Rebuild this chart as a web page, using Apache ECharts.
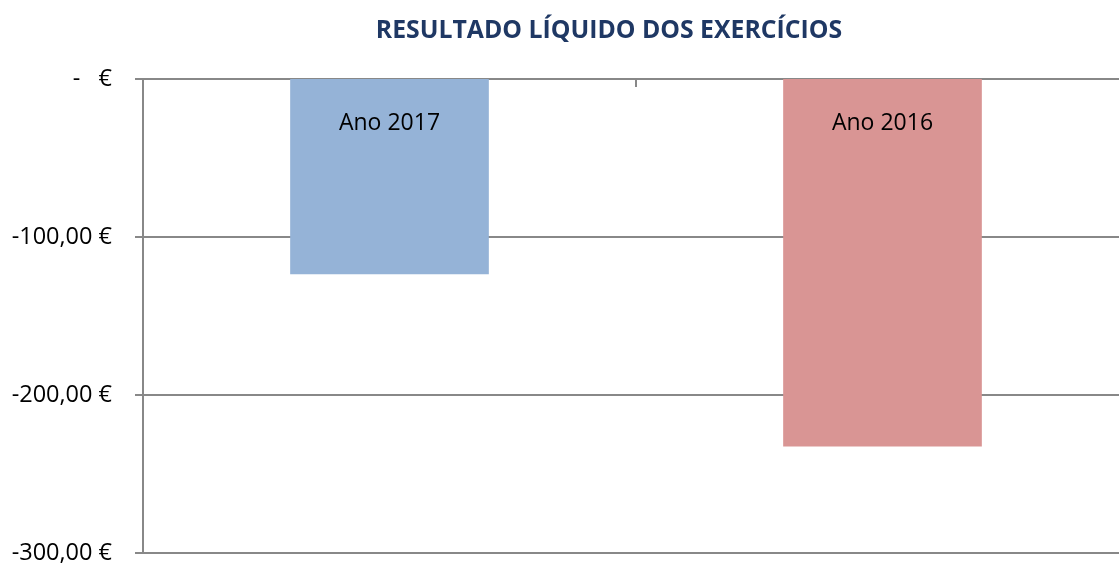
<!DOCTYPE html>
<html>
<head>
<meta charset="utf-8">
<script src="https://cdn.jsdelivr.net/npm/echarts@6/dist/echarts.min.js"></script>
<style>
  html, body { margin: 0; padding: 0; background: #fff; overflow: hidden; }
  /* a área do gráfico ultrapassa a janela à direita */
  #main { width: 1129px; height: 565px; }
</style>
</head>
<body>
<div id="main"></div>
<script>
// dados do gráfico
const categories = ["Ano 2017", "Ano 2016"];
const values = [-123.6, -232.6];
const barColors = ["#95b3d7", "#d99594"];
const yTicks = [0, -100, -200, -300];

function fmtEuro(v) {
  if (v === 0) return "-   €";
  return v.toFixed(2).replace(".", ",") + " €";
}

const myChart = echarts.init(document.getElementById("main"));
myChart.setOption({
  animation: false,
  textStyle: { fontFamily: "Open Sans" },
  title: {
    text: "RESULTADO LÍQUIDO DOS EXERCÍCIOS",
    left: 604,
    textAlign: "center",
    top: 13,
    textStyle: { color: "#1f3864", fontSize: 24.8, fontWeight: "bold", fontFamily: "Open Sans" }
  },
  grid: { left: 143, right: 0, top: 79, bottom: 11, containLabel: false },
  xAxis: {
    type: "category",
    data: categories,
    position: "top",
    axisLine: { lineStyle: { color: "#888", width: 2 } },
    axisTick: { show: true, inside: true, length: 8, lineStyle: { color: "#888", width: 2 } },
    axisLabel: { show: false },
    splitLine: { show: false }
  },
  yAxis: {
    type: "value",
    min: yTicks[yTicks.length - 1],
    max: yTicks[0],
    interval: 100,
    axisLine: { show: true, lineStyle: { color: "#888", width: 2 } },
    axisTick: { show: true, length: 8, lineStyle: { color: "#888", width: 2 } },
    axisLabel: { color: "#000", fontSize: 23.5, margin: 31, formatter: fmtEuro },
    splitLine: { show: true, lineStyle: { color: "#888", width: 2 } }
  },
  series: [
    {
      type: "bar",
      barWidth: "40.3%",
      data: values.map((v, i) => ({ value: v, itemStyle: { color: barColors[i] } })),
      label: {
        show: true,
        position: "insideTop",
        distance: 33,
        color: "#000",
        fontSize: 23,
        formatter: p => p.name
      }
    }
  ]
});
</script>
</body>
</html>
